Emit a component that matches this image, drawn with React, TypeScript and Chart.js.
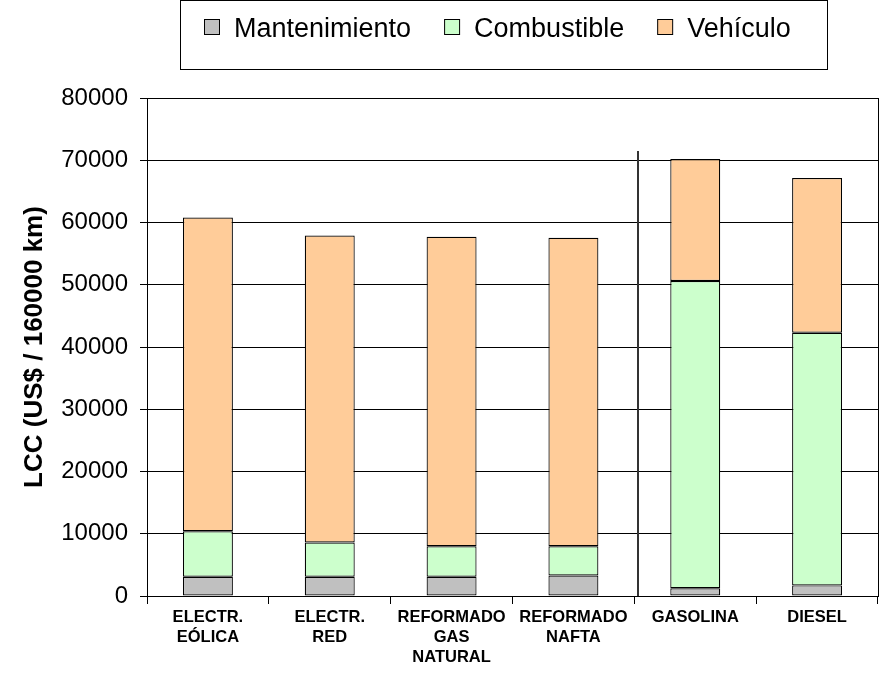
import React, { useEffect, useRef } from "react";
import { Chart, registerables } from "chart.js";

Chart.register(...registerables);

const categories: string[][] = [
  ["ELECTR.", "EÓLICA"],
  ["ELECTR.", "RED"],
  ["REFORMADO", "GAS", "NATURAL"],
  ["REFORMADO", "NAFTA"],
  ["GASOLINA"],
  ["DIESEL"],
];
const mantenimiento = [3100, 3100, 3100, 3300, 1250, 1700];
const combustible = [7300, 5500, 4900, 4700, 49350, 40600];
const vehiculo = [50400, 49300, 49700, 49550, 19600, 24850];
const seriesNames = ["Mantenimiento", "Combustible", "Vehículo"];
const seriesColors = ["#C0C0C0", "#CCFFCC", "#FFCC99"];
const yMin = 0;
const yMax = 80000;
const yStep = 10000;
const yTitle = "LCC (US$ / 160000 km)";
const separatorPosition = 3.53;
const separatorTop = 71500;

const FONT = '"Liberation Sans", Arial, sans-serif';

const frame = {
  id: "frame",
  afterDatasetsDraw(chart: any) {
    const { ctx, chartArea, scales } = chart;
    ctx.save();
    ctx.strokeStyle = "#000";
    ctx.lineWidth = 1;
    ctx.beginPath();
    ctx.moveTo(Math.round(chartArea.right) + 0.5, chartArea.top);
    ctx.lineTo(Math.round(chartArea.right) + 0.5, chartArea.bottom);
    ctx.stroke();
    const x = Math.round(scales.x.getPixelForValue(separatorPosition));
    ctx.strokeStyle = "#333";
    ctx.lineWidth = 2;
    ctx.beginPath();
    ctx.moveTo(x, scales.y.getPixelForValue(separatorTop));
    ctx.lineTo(x, chartArea.bottom);
    ctx.stroke();
    ctx.restore();
  },
};

const boxLegend = {
  id: "boxLegend",
  afterDraw(chart: any) {
    const { ctx } = chart;
    ctx.save();
    ctx.strokeStyle = "#000";
    ctx.lineWidth = 1;
    ctx.strokeRect(180.5, 0.5, 647, 69);
    ctx.font = `27px ${FONT}`;
    ctx.textBaseline = "alphabetic";
    ctx.textAlign = "left";
    const sq = 15;
    const gap = 15;
    const spacing = 33;
    const items = chart.data.datasets.map((ds: any) => ({
      label: ds.label,
      color: ds.backgroundColor,
      w: ctx.measureText(ds.label).width,
    }));
    const total =
      items.reduce((s: number, it: any) => s + sq + gap + it.w, 0) +
      spacing * (items.length - 1);
    let x = Math.round(497 - total / 2);
    for (const it of items) {
      ctx.fillStyle = it.color;
      ctx.fillRect(x + 0.5, 19.5, sq, sq);
      ctx.strokeStyle = "#000";
      ctx.strokeRect(x + 0.5, 19.5, sq, sq);
      ctx.fillStyle = "#000";
      ctx.fillText(it.label, x + sq + gap, 37);
      x += sq + gap + it.w + spacing;
    }
    ctx.restore();
  },
};

export default function App() {
  const ref = useRef<HTMLCanvasElement>(null);
  useEffect(() => {
    if (!ref.current) return;
    const series = [mantenimiento, combustible, vehiculo];
    const chart = new Chart(ref.current, {
      type: "bar",
      data: {
        labels: categories,
        datasets: series.map((d, i) => ({
          label: seriesNames[i],
          data: d,
          backgroundColor: seriesColors[i],
          borderColor: "#000",
          borderWidth: 1.2,
          borderSkipped: false,
          barPercentage: 0.41,
          categoryPercentage: 1,
        })),
      },
      options: {
        animation: false,
        responsive: true,
        maintainAspectRatio: false,
        layout: { padding: { top: 98, right: 8, bottom: 0, left: 0 } },
        plugins: {
          legend: { display: false },
          tooltip: { enabled: false },
        },
        scales: {
          x: {
            stacked: true,
            grid: {
              offset: true,
              drawOnChartArea: false,
              drawTicks: true,
              tickLength: 8,
              color: "#000",
            },
            border: { display: true, color: "#000" },
            ticks: {
              color: "#000",
              font: { family: FONT, size: 16.5, weight: "bold", lineHeight: "20px" },
              padding: 3,
              maxRotation: 0,
              autoSkip: false,
            },
            afterFit: (scale: any) => {
              scale.height = 84;
            },
          },
          y: {
            stacked: true,
            min: yMin,
            max: yMax,
            ticks: {
              stepSize: yStep,
              color: "#000",
              font: { family: FONT, size: 24 },
              padding: 12,
              callback: (v: any) => String(v),
            },
            grid: { color: "#000", lineWidth: 1, tickLength: 7, drawTicks: true },
            border: { display: true, color: "#000" },
            title: {
              display: true,
              text: yTitle,
              color: "#000",
              font: { family: FONT, size: 26, weight: "bold" },
              padding: { top: 19, bottom: 0 },
            },
            afterFit: (scale: any) => {
              scale.width = 147;
            },
          },
        },
      },
      plugins: [frame, boxLegend],
    });
    return () => chart.destroy();
  }, []);
  return (
    <div style={{ position: "absolute", left: 0, top: 0, width: 886, height: 680, background: "#fff" }}>
      <canvas ref={ref} />
    </div>
  );
}
